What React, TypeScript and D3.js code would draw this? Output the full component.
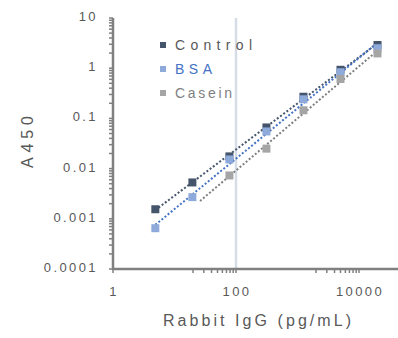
import { useEffect, useRef } from 'react'
import * as d3 from 'd3'

// Rabbit IgG concentration (pg/mL), 4-fold serial dilution
const conc = [4.88, 19.53, 78.13, 312.5, 1250, 5000, 20000]
const control = [0.00155, 0.0053, 0.0175, 0.066, 0.27, 0.93, 2.9]
const bsa = [0.00065, 0.0027, 0.0152, 0.055, 0.24, 0.83, 2.5]
const casein: (number | null)[] = [null, null, 0.0073, 0.025, 0.145, 0.61, 1.97]

const seriesNames = ['Control', 'BSA', 'Casein']
const yTickValues = [0.0001, 0.001, 0.01, 0.1, 1, 10]
const yTickLabels = ['0.0001', '0.001', '0.01', '0.1', '1', '10']
const xTickValues = [1, 100, 10000]
const xTickLabels = ['1', '100', '10000']
const refLineX = 100
const caseinTrendFrom = 26

const W = 398
const H = 338

export default function App() {
  const svgRef = useRef<SVGSVGElement>(null)

  useEffect(() => {
    const svg = svgRef.current
    if (!svg) return
    const sel = d3.select(svg)
    sel.selectAll('*').remove()

    const left = 113, bottom = 269, top = 18
    const x = d3.scaleLog().domain([1, 1e5]).range([left, left + 5 * 61.5])
    const y = d3.scaleLog().domain([0.0001, 10]).range([bottom, top])

    const axisColor = '#808080'
    const textColor = '#595959'
    const font = 'Liberation Sans, Arial, sans-serif'

    sel.append('rect').attr('width', W).attr('height', H).attr('fill', '#fff')

    // reference line at 100
    sel.append('line')
      .attr('x1', x(refLineX)).attr('x2', x(refLineX))
      .attr('y1', top).attr('y2', bottom)
      .attr('stroke', '#d6dce5').attr('stroke-width', 2.5)

    // y minor + major ticks
    const yTicks: number[] = []
    for (let e = -4; e <= 0; e++) for (let m = 1; m <= 9; m++) yTicks.push(m * Math.pow(10, e))
    yTicks.push(10)
    sel.append('g').selectAll('line').data(yTicks).join('line')
      .attr('x1', left - 4).attr('x2', left)
      .attr('y1', d => y(d)).attr('y2', d => y(d))
      .attr('stroke', axisColor).attr('stroke-width', 1.5)

    // x ticks (base-100 style)
    const xTicks: number[] = [...xTickValues]
    for (const base of [10, 1000]) for (let m = 2; m <= 9; m++) xTicks.push(m * base)
    sel.append('g').selectAll('line').data(xTicks).join('line')
      .attr('x1', d => x(d)).attr('x2', d => x(d))
      .attr('y1', bottom).attr('y2', bottom + 4)
      .attr('stroke', axisColor).attr('stroke-width', 1.5)

    // axes lines
    sel.append('line').attr('x1', left).attr('x2', left).attr('y1', top).attr('y2', bottom + 1)
      .attr('stroke', axisColor).attr('stroke-width', 2.5)
    sel.append('line').attr('x1', left - 1).attr('x2', W).attr('y1', bottom).attr('y2', bottom)
      .attr('stroke', axisColor).attr('stroke-width', 2.5)

    // tick labels
    sel.append('g').selectAll('text').data(yTickValues).join('text')
      .attr('x', 98).attr('y', d => y(d) + 3)
      .attr('text-anchor', 'end')
      .attr('fill', textColor).attr('font-size', 13).attr('font-family', font)
      .attr('letter-spacing', 2.4)
      .text((_, i) => yTickLabels[i])
    sel.append('g').selectAll('text').data(xTickValues).join('text')
      .attr('x', d => x(d) + 1).attr('y', 296)
      .attr('text-anchor', 'middle')
      .attr('fill', textColor).attr('font-size', 13).attr('font-family', font)
      .attr('letter-spacing', 2.4)
      .text((_, i) => xTickLabels[i])

    // titles
    sel.append('text')
      .attr('x', 163).attr('y', 326)
      .attr('fill', textColor).attr('font-size', 16).attr('font-family', font)
      .attr('textLength', 188).attr('lengthAdjust', 'spacing')
      .text('Rabbit IgG (pg/mL)')
    sel.append('text')
      .attr('transform', 'translate(33,168) rotate(-90)')
      .attr('fill', textColor).attr('font-size', 16).attr('font-family', font)
      .attr('textLength', 52).attr('lengthAdjust', 'spacing')
      .text('A450')

    // series
    const series = [
      { name: seriesNames[0], values: control as (number | null)[], marker: '#44546a', trend: '#44546a', from: null as number | null },
      { name: seriesNames[1], values: bsa as (number | null)[], marker: '#8eaadb', trend: '#4472c4', from: null },
      { name: seriesNames[2], values: casein, marker: '#a5a5a5', trend: '#7f7f7f', from: caseinTrendFrom },
    ]

    // power trendlines (linear fit in log-log space)
    series.forEach(s => {
      const pts = conc.map((c, i) => ({ c, v: s.values[i] })).filter(p => p.v != null) as { c: number; v: number }[]
      const lx = pts.map(p => Math.log10(p.c)), ly = pts.map(p => Math.log10(p.v))
      const mx = d3.mean(lx)!, my = d3.mean(ly)!
      const slope = d3.sum(lx, (v, i) => (v - mx) * (ly[i] - my)) / d3.sum(lx, v => (v - mx) ** 2)
      const b = my - slope * mx
      const x0 = s.from ?? pts[0].c, x1 = pts[pts.length - 1].c
      const f = (c: number) => Math.pow(10, b + slope * Math.log10(c))
      sel.append('line')
        .attr('x1', x(x0)).attr('y1', y(f(x0)))
        .attr('x2', x(x1)).attr('y2', y(f(x1)))
        .attr('stroke', s.trend).attr('stroke-width', 2)
        .attr('stroke-dasharray', '2,2')
    })

    series.forEach(s => {
      const pts = conc.map((c, i) => ({ c, v: s.values[i] })).filter(p => p.v != null) as { c: number; v: number }[]
      sel.append('g').selectAll('rect').data(pts).join('rect')
        .attr('x', d => x(d.c) - 4).attr('y', d => y(d.v) - 4)
        .attr('width', 8).attr('height', 8)
        .attr('fill', s.marker)
    })

    // legend
    const lg = sel.append('g')
    series.forEach((s, i) => {
      const ly = 45 + i * 24
      lg.append('rect').attr('x', 160).attr('y', ly - 3).attr('width', 6).attr('height', 6).attr('fill', s.marker)
      lg.append('text')
        .attr('x', 175).attr('y', ly + 5)
        .attr('fill', i === 1 ? '#4472c4' : i === 0 ? textColor : '#7f7f7f')
        .attr('font-size', 14).attr('font-family', font)
        .attr('textLength', [77, 37, 57][i]).attr('lengthAdjust', 'spacing')
        .text(s.name)
    })
  }, [])

  return (
    <svg
      ref={svgRef}
      width={W}
      height={H}
      style={{ position: 'fixed', left: 0, top: 0, display: 'block' }}
    />
  )
}
